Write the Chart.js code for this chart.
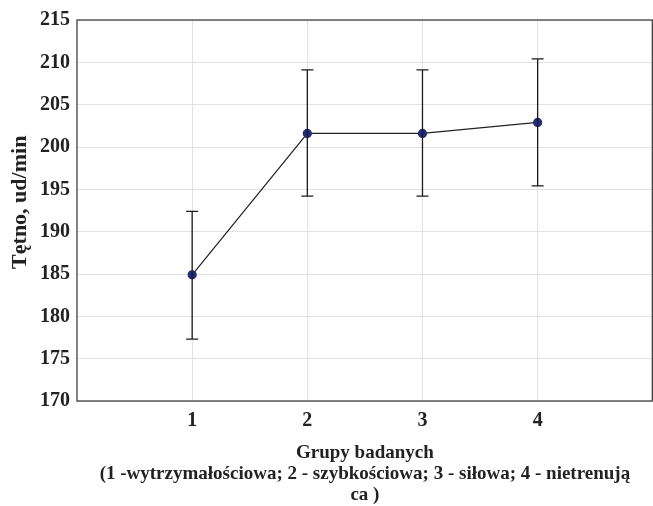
<!DOCTYPE html>
<html>
<head>
<meta charset="utf-8">
<script src="https://cdn.jsdelivr.net/npm/chart.js@4/dist/chart.umd.min.js"></script>
<style>
  html, body { margin: 0; padding: 0; background: #fff; overflow: hidden; }
  #wrap { width: 653px; height: 506px; overflow: hidden; }
</style>
</head>
<body>
<div id="wrap"><canvas id="HeartRateChart" width="658" height="506"></canvas></div>
<script>
// groups and mean heart rate with error bar ends
groups = [1, 2, 3, 4];
groupLabels = ['1', '2', '3', '4'];
means = [184.9, 201.6, 201.6, 202.9];
upper = [192.4, 209.1, 209.1, 210.4];
lower = [177.3, 194.2, 194.2, 195.4];
yTicks = [170, 175, 180, 185, 190, 195, 200, 205, 210, 215];

const FONT = "'Liberation Serif', 'Times New Roman', serif";

// whiskers drawn through the chart scales
const errorBars = {
    id: 'errorBars',
    afterDatasetsDraw(chart) {
        const ctx = chart.ctx, xs = chart.scales.x, ys = chart.scales.y;
        ctx.save();
        ctx.strokeStyle = '#1a1a1a';
        ctx.lineWidth = 1.3;
        for (let i = 0; i < groups.length; i++) {
            const x = xs.getPixelForValue(groups[i]);
            const yt = ys.getPixelForValue(upper[i]);
            const yb = ys.getPixelForValue(lower[i]);
            ctx.beginPath();
            ctx.moveTo(x, yt); ctx.lineTo(x, yb);
            ctx.moveTo(x - 6, yt); ctx.lineTo(x + 6, yt);
            ctx.moveTo(x - 6, yb); ctx.lineTo(x + 6, yb);
            ctx.stroke();
        }
        ctx.restore();
    },
    beforeDatasetsDraw(chart) {
        // frame round the plot area
        const a = chart.chartArea, ctx = chart.ctx;
        ctx.save();
        ctx.strokeStyle = '#333';
        ctx.lineWidth = 1.2;
        ctx.strokeRect(a.left, a.top, a.right - a.left - 0.5, a.bottom - a.top);
        ctx.restore();
    }
};

function OnLoaded() {
    const ctx = document.getElementById('HeartRateChart');

    c = new Chart(ctx, {
        type: 'scatter',
        data: {
            datasets: [{
                data: groups.map((g, i) => ({x: g, y: means[i]})),
                showLine: true,
                borderColor: '#222',
                borderWidth: 1.2,
                pointBackgroundColor: '#232c7c',
                pointBorderColor: '#232c7c',
                pointRadius: 4,
                order: 1
            }]
        },
        options: {
            responsive: false,
            animation: false,
            layout: { padding: { top: 20, right: 1, left: 0, bottom: 0 } },
            plugins: { legend: { display: false }, tooltip: { enabled: false } },
            scales: {
                x: {
                    type: 'linear',
                    min: 0, max: 5,
                    afterBuildTicks: s => { s.ticks = [0, 1, 2, 3, 4, 5].map(v => ({value: v})); },
                    afterFit: s => { s.height = 105; s.paddingRight = 0; s.paddingLeft = 0; },
                    grid: {
                        color: t => (t.tick && t.tick.value >= 1 && t.tick.value <= 4) ? '#e2e2e2' : 'rgba(0,0,0,0)',
                        lineWidth: 1,
                        drawTicks: true,
                        tickLength: 8,
                        tickColor: 'rgba(0,0,0,0)'
                    },
                    border: { display: false },
                    ticks: {
                        padding: 0,
                        color: '#222',
                        font: { family: FONT, size: 20, weight: 'bold' },
                        callback: v => { const i = groups.indexOf(v); return i >= 0 ? groupLabels[i] : ''; }
                    },
                    title: {
                        display: true,
                        text: ['Grupy badanych',
                               '(1 -wytrzymałościowa; 2 - szybkościowa; 3 - siłowa; 4 - nietrenują',
                               'ca )'],
                        color: '#222',
                        font: { family: FONT, size: 19, weight: 'bold', lineHeight: 1.105 },
                        padding: { top: 9, bottom: 0 }
                    }
                },
                y: {
                    min: 170, max: 215,
                    afterBuildTicks: s => { s.ticks = yTicks.map(v => ({value: v})); },
                    afterFit: s => { s.width = 77; },
                    grid: { color: '#e2e2e2', lineWidth: 1, drawTicks: false },
                    border: { display: false },
                    ticks: {
                        padding: 7,
                        color: '#222',
                        font: { family: FONT, size: 20, weight: 'bold' }
                    },
                    title: {
                        display: true,
                        text: '   Tętno, ud/min',
                        color: '#222',
                        font: { family: FONT, size: 22, weight: 'bold' },
                        padding: { top: 7, bottom: 0 }
                    }
                }
            }
        },
        plugins: [errorBars]
    });
}
OnLoaded();
</script>
</body>
</html>
